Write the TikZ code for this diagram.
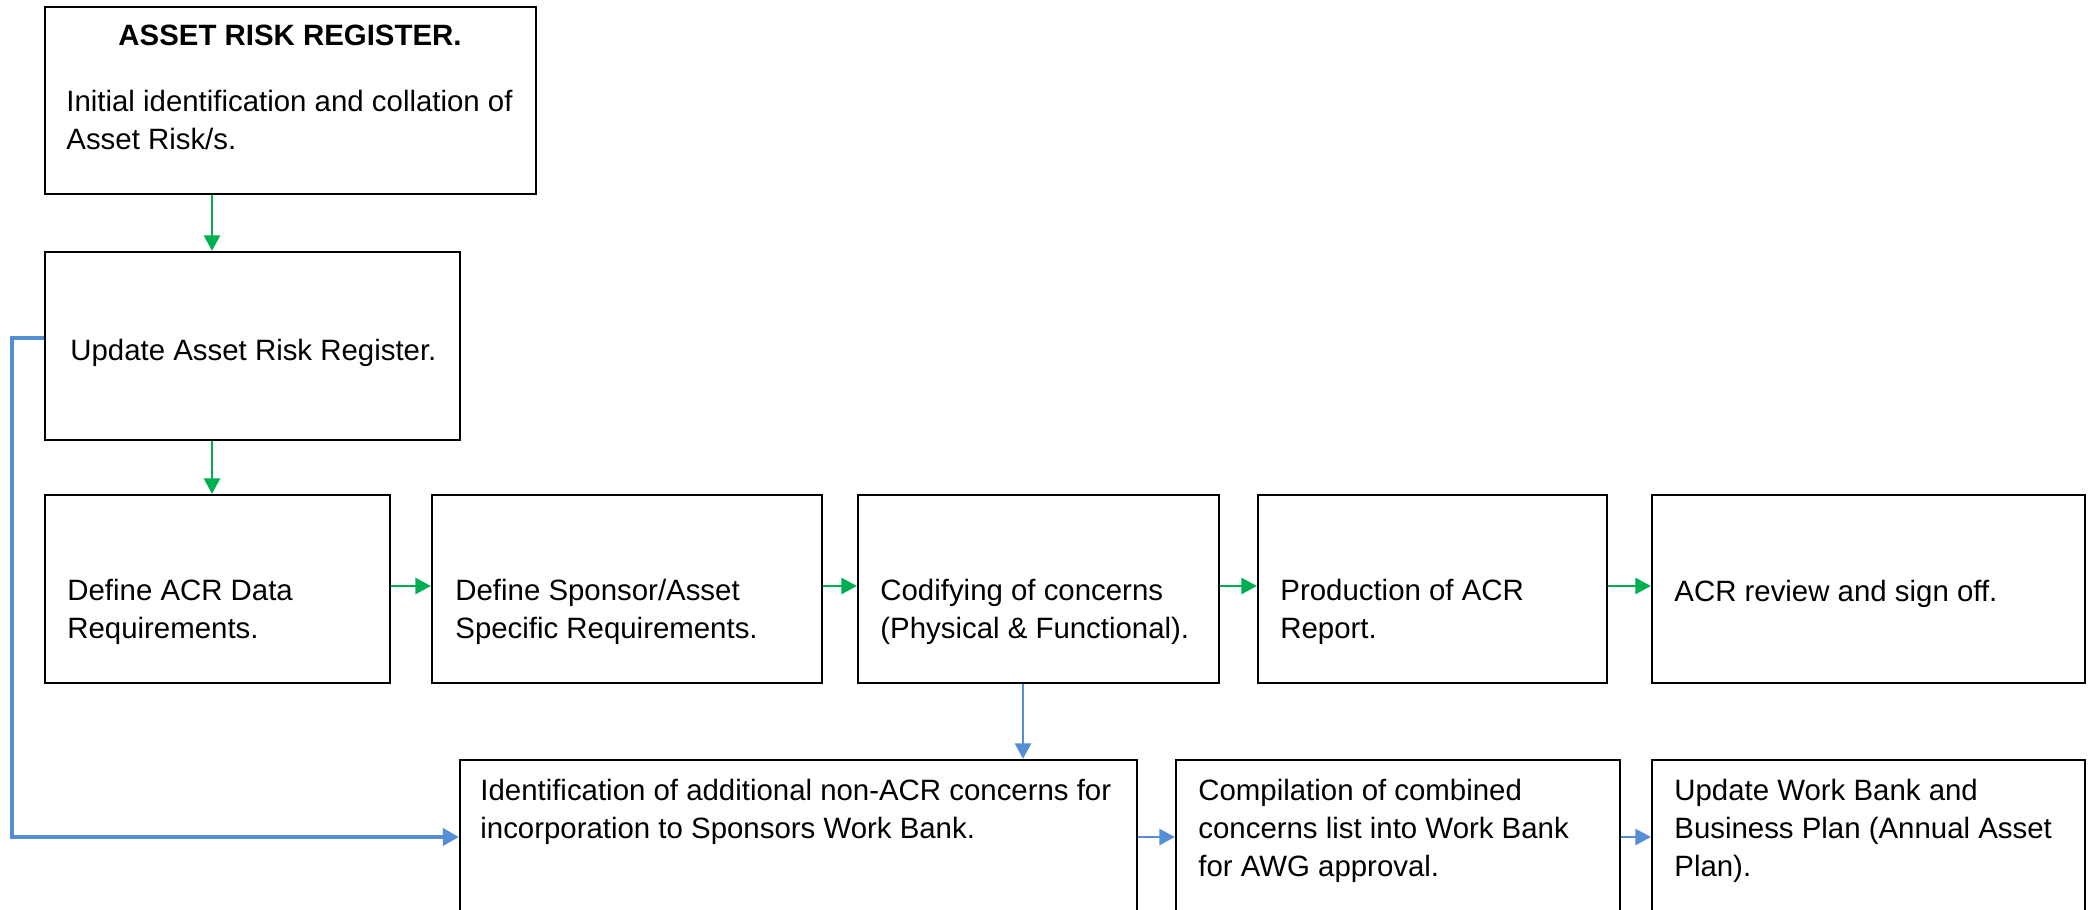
\documentclass[tikz,border=0pt]{standalone}
\usepackage{fontspec}
\setmainfont{Liberation Sans}
\usetikzlibrary{fit,arrows.meta}
\definecolor{flowgreen}{RGB}{0,176,80}
\definecolor{flowblue}{RGB}{86,142,213}
\begin{document}
\begin{tikzpicture}[x=0.5pt,y=-0.5pt,
  box/.style={draw=black,line width=1.1pt,inner sep=0pt,fill=white},
  txt/.style={inner sep=0pt,anchor=base west,align=left,font=\fontsize{14.7}{19}\selectfont},
  garrow/.style={draw=flowgreen,line width=1.4pt,-{Triangle[length=7.8pt,width=8pt]}},
  barrow/.style={draw=flowblue,line width=1.4pt,-{Triangle[length=7.8pt,width=8pt]}},
  bbarrow/.style={draw=flowblue,line width=1.9pt,-{Triangle[length=8pt,width=8.5pt]}}]
\useasboundingbox (0,0) rectangle (2094,910);
\clip (0,0) rectangle (2094,910);
\fill[white] (0,0) rectangle (2094,910);
% boxes
\node[box,fit={(45,7) (536,194)}] (b1) {};
\node[box,fit={(45,252) (460,440)}] (b2) {};
\node[box,fit={(45,495) (390,683)}] (b3) {};
\node[box,fit={(432,495) (822,683)}] (b4) {};
\node[box,fit={(858,495) (1219,683)}] (b5) {};
\node[box,fit={(1258,495) (1607,683)}] (b6) {};
\node[box,fit={(1652,495) (2085,683)}] (b7) {};
\node[box,fit={(460,760) (1137,940)}] (b8) {};
\node[box,fit={(1176,760) (1620,940)}] (b9) {};
\node[box,fit={(1652,760) (2085,940)}] (b10) {};
% texts (base anchor = baseline of the last line)
\node[txt,anchor=base,font=\fontsize{14.7}{19}\selectfont\bfseries] (t1a) at (290,45) {ASSET RISK REGISTER.};
\node[txt] (t1b) at (66,149) {Initial identification and collation of\\Asset Risk/s.};
\node[txt] (t2) at (70,360) {Update Asset Risk Register.};
\node[txt] (t3) at (67,638) {Define ACR Data\\Requirements.};
\node[txt] (t4) at (455,638) {Define Sponsor/Asset\\Specific Requirements.};
\node[txt] (t5) at (880,638) {Codifying of concerns\\(Physical \& Functional).};
\node[txt] (t6) at (1280,638) {Production of ACR\\Report.};
\node[txt] (t7) at (1674,601) {ACR review and sign off.};
\node[txt] (t8) at (480,838) {Identification of additional non-ACR concerns for\\incorporation to Sponsors Work Bank.};
\node[txt] (t9) at (1198,876) {Compilation of combined\\concerns list into Work Bank\\for AWG approval.};
\node[txt] (t10) at (1674,876) {Update Work Bank and\\Business Plan (Annual Asset\\Plan).};
% helper coordinates
\coordinate (gx) at (212,0);
\coordinate (gy) at (0,586);
\coordinate (dx) at (1023,0);
\coordinate (ly) at (0,338);
\coordinate (lx) at (12,0);
\coordinate (by) at (0,837);
% green connectors
\draw[garrow] (b1.south -| gx) -- (b2.north -| gx);
\draw[garrow] (b2.south -| gx) -- (b3.north -| gx);
\draw[garrow] (b3.east |- gy) -- (b4.west |- gy);
\draw[garrow] (b4.east |- gy) -- (b5.west |- gy);
\draw[garrow] (b5.east |- gy) -- (b6.west |- gy);
\draw[garrow] (b6.east |- gy) -- (b7.west |- gy);
% blue connectors
\draw[bbarrow] (b2.west |- ly) -- (lx |- ly) -- (lx |- by) -- (b8.west |- by);
\draw[barrow] (b5.south -| dx) -- (b8.north -| dx);
\draw[barrow] (b8.east |- by) -- (b9.west |- by);
\draw[barrow] (b9.east |- by) -- (b10.west |- by);
\end{tikzpicture}
\end{document}
